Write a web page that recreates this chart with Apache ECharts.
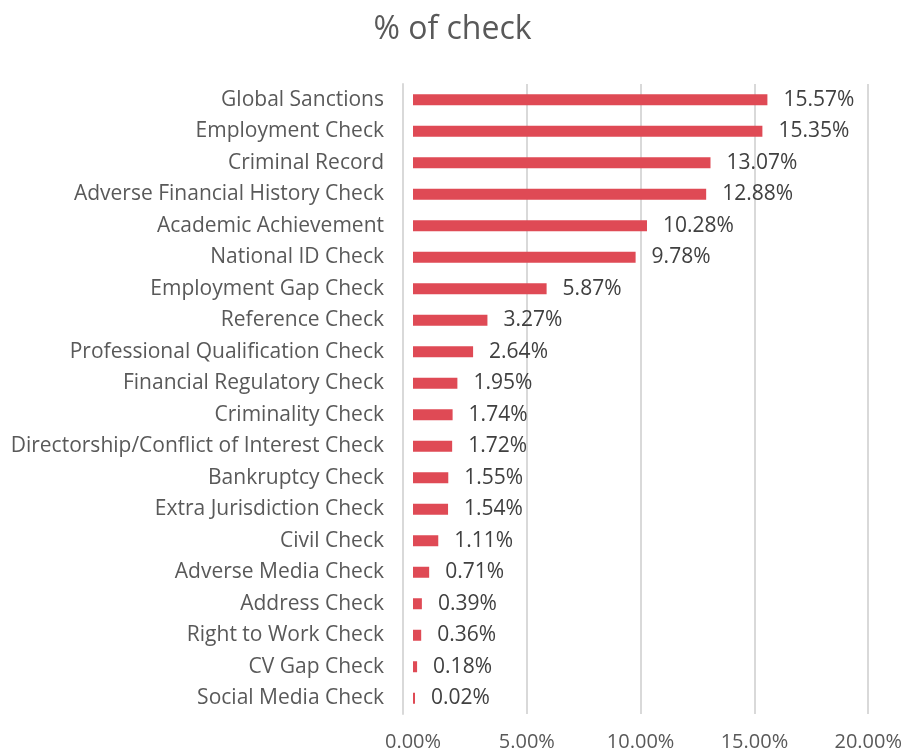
<!DOCTYPE html>
<html>
<head>
<meta charset="utf-8">
<script src="https://cdn.jsdelivr.net/npm/echarts@6/dist/echarts.min.js"></script>
<style>
  html, body { margin: 0; padding: 0; background: #fff; }
  #chart { width: 905px; height: 754px; }
</style>
</head>
<body>
<div id="chart"></div>
<script>
// categories from top to bottom
var categories = [
  'Global Sanctions',
  'Employment Check',
  'Criminal Record',
  'Adverse Financial History Check',
  'Academic Achievement',
  'National ID Check',
  'Employment Gap Check',
  'Reference Check',
  'Professional Qualification Check',
  'Financial Regulatory Check',
  'Criminality Check',
  'Directorship/Conflict of Interest Check',
  'Bankruptcy Check',
  'Extra Jurisdiction Check',
  'Civil Check',
  'Adverse Media Check',
  'Address Check',
  'Right to Work Check',
  'CV Gap Check',
  'Social Media Check'
]
// percent values
var values = [15.57, 15.35, 13.07, 12.88, 10.28, 9.78, 5.87, 3.27, 2.64, 1.95,
  1.74, 1.72, 1.55, 1.54, 1.11, 0.71, 0.39, 0.36, 0.18, 0.02]
var xTicks = [0, 5, 10, 15, 20]

var font = 'Open Sans'
var myChart = echarts.init(document.getElementById('chart'))
myChart.setOption({
  animation: false,
  title: {
    text: '% of check',
    left: 'center',
    top: 9,
    textStyle: { fontFamily: font, fontSize: 32, fontWeight: 'normal', color: '#595959' }
  },
  grid: { left: 413, right: 34, top: 84, bottom: 40 },
  xAxis: {
    type: 'value',
    min: xTicks[0],
    max: xTicks[xTicks.length - 1],
    interval: 5,
    axisLine: { show: false },
    axisTick: { show: false },
    splitLine: { showMinLine: false, lineStyle: { color: '#d9d9d9', width: 2 } },
    axisLabel: {
      fontFamily: font, fontSize: 20, color: '#595959', margin: 18,
      formatter: function (v) { return v.toFixed(2) + '%' }
    }
  },
  yAxis: {
    type: 'category',
    inverse: true,
    data: categories,
    offset: 10,
    axisLine: { show: true, onZero: false, lineStyle: { color: '#d9d9d9', width: 2 } },
    axisTick: { show: false },
    axisLabel: { fontFamily: font, fontSize: 21, color: '#595959', margin: 19 }
  },
  series: [{
    type: 'bar',
    data: values,
    barWidth: 11,
    barMinHeight: 2,
    itemStyle: { color: '#DF4A55' },
    label: {
      show: true,
      position: 'right',
      distance: 16,
      fontFamily: font,
      fontSize: 21,
      color: '#404040',
      formatter: function (p) { return p.value.toFixed(2) + '%' }
    }
  }]
})
</script>
</body>
</html>
